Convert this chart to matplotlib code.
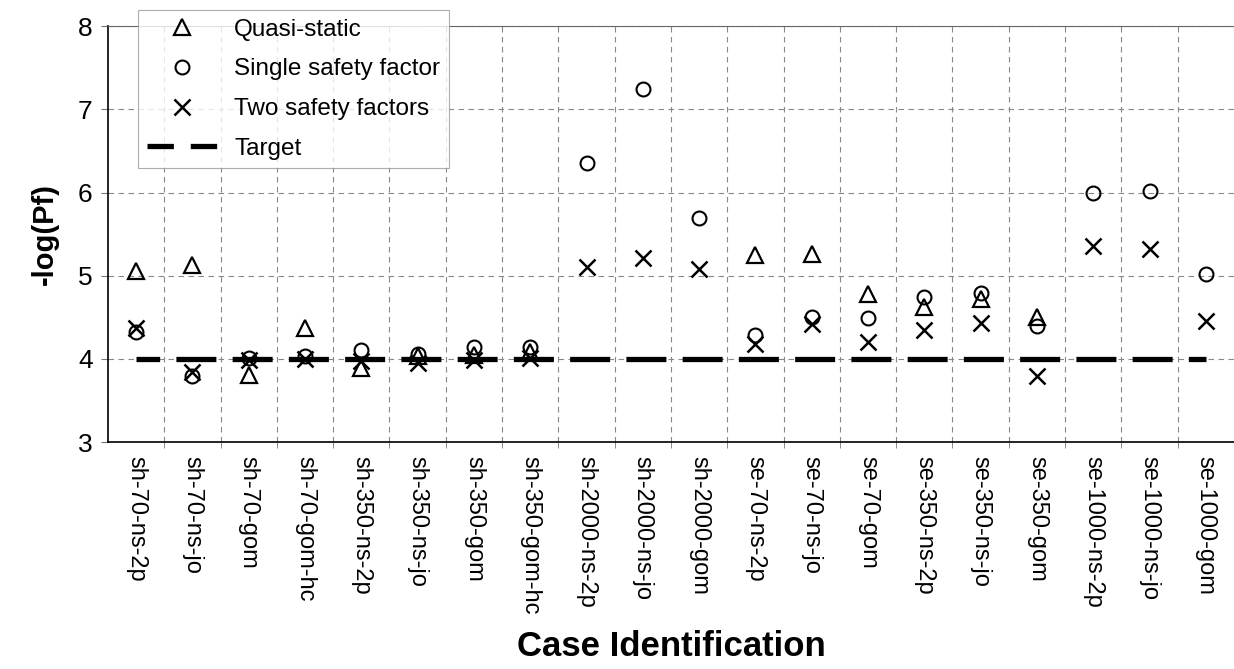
import numpy as np
import matplotlib
matplotlib.use("Agg")
import matplotlib.pyplot as plt
from matplotlib.lines import Line2D

cases = ["sh-70-ns-2p", "sh-70-ns-jo", "sh-70-gom", "sh-70-gom-hc",
         "sh-350-ns-2p", "sh-350-ns-jo", "sh-350-gom", "sh-350-gom-hc",
         "sh-2000-ns-2p", "sh-2000-ns-jo", "sh-2000-gom",
         "se-70-ns-2p", "se-70-ns-jo", "se-70-gom",
         "se-350-ns-2p", "se-350-ns-jo", "se-350-gom",
         "se-1000-ns-2p", "se-1000-ns-jo", "se-1000-gom"]
nan = np.nan
quasi_static = [5.06, 5.13, 3.81, 4.37, 3.89, 4.03, 4.05, 4.08, nan, nan, nan,
                5.25, 5.26, 4.78, 4.62, 4.72, 4.51, nan, nan, nan]
single_sf = [4.33, 3.79, 4.01, 4.04, 4.11, 4.06, 4.15, 4.14, 6.35, 7.24, 5.70,
             4.29, 4.50, 4.49, 4.75, 4.79, 4.40, 6.00, 6.02, 5.02]
two_sf = [4.37, 3.84, 3.99, 4.00, 3.97, 3.95, 3.99, 4.01, 5.11, 5.21, 5.08,
          4.18, 4.42, 4.21, 4.35, 4.43, 3.80, 5.36, 5.32, 4.46]
target = [4.0] * len(cases)

plt.rcParams['font.family'] = ['Liberation Sans', 'DejaVu Sans']

fig = plt.figure(figsize=(12.34, 6.69), dpi=100)
ax = fig.add_axes([0.0875, 0.339, 0.9125, 0.622])

x = np.arange(len(cases))
lw_t = 3.8
# dash pattern: dash ~40px, gap ~16px (in linewidth units, pt)
dash_on = 28.8 / lw_t
dash_off = 11.7 / lw_t
ax.plot(x, target, color='black', lw=lw_t, linestyle=(3.1, (dash_on, dash_off)),
        dash_capstyle='butt', zorder=2)
ax.plot(x, quasi_static, ls='none', marker='^', ms=11, mfc='none', mec='black', mew=1.6, zorder=3)
ax.plot(x, single_sf, ls='none', marker='o', ms=10, mfc='none', mec='black', mew=1.5, zorder=3)
ax.plot(x, two_sf, ls='none', marker='x', ms=12, mec='black', mew=1.8, zorder=3)

ax.set_xlim(-0.5, len(cases) - 0.5)
ax.set_ylim(3, 8)
ax.set_yticks([3, 4, 5, 6, 7, 8])
ax.set_xticks(x)
ax.set_xticklabels(cases, rotation=-90, fontsize=17)
ax.set_xticks(np.arange(len(cases) - 1) + 0.5, minor=True)
ax.tick_params(axis='x', which='major', length=0, pad=10)
ax.tick_params(axis='x', which='minor', length=4, direction='out', color='#777777')
ax.tick_params(axis='y', labelsize=19, length=5, direction='out', pad=6, color='#777777')

ax.grid(axis='y', which='major', color='#888888', linestyle=(0, (5, 4)), linewidth=0.8)
ax.grid(axis='x', which='minor', color='#888888', linestyle=(0, (5, 4)), linewidth=0.8)
ax.set_axisbelow(True)

ax.spines['right'].set_visible(False)
ax.spines['top'].set_color('#666666')
ax.spines['left'].set_linewidth(1.2)
ax.spines['bottom'].set_linewidth(1.2)

ax.set_ylabel('-log(Pf)', fontsize=21, fontweight='bold', labelpad=14)
ax.set_xlabel('Case Identification', fontsize=25, fontweight='bold', labelpad=11)

handles = [
    Line2D([], [], ls='none', marker='^', ms=11, mfc='none', mec='black', mew=1.6),
    Line2D([], [], ls='none', marker='o', ms=10, mfc='none', mec='black', mew=1.5),
    Line2D([], [], ls='none', marker='x', ms=12, mec='black', mew=1.8),
    Line2D([], [], color='black', lw=lw_t, linestyle=(0, (5.0, 3.2)), dash_capstyle='butt'),
]
labels = ['Quasi-static', 'Single safety factor', 'Two safety factors', 'Target']
leg = fig.legend(handles, labels, loc='upper left',
                 bbox_to_anchor=(138 / 1234, 1 - 10 / 669), fontsize=17.5,
                 frameon=True, fancybox=False, edgecolor='#999999',
                 handlelength=2.9, handletextpad=0.7, labelspacing=0.73,
                 borderpad=0.35, borderaxespad=0)
leg.get_frame().set_linewidth(0.8)

fig.savefig('out.png', dpi=100)
